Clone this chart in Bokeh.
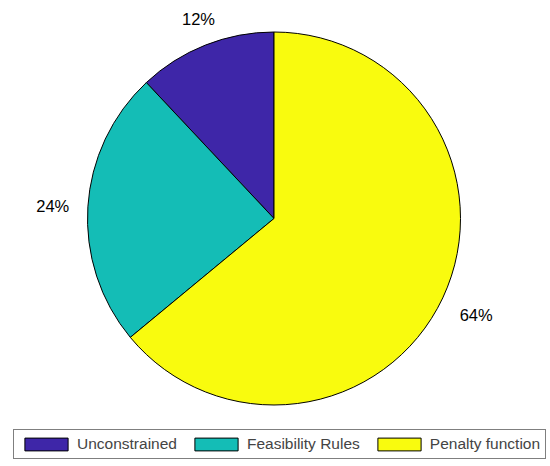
import math
from bokeh.plotting import figure
from bokeh.models import Range1d, ColumnDataSource, Legend, LegendItem
from bokeh.core.properties import value
from bokeh.embed import file_html
from bokeh.resources import INLINE

# ---- data ----
categories = ["Unconstrained", "Feasibility Rules", "Penalty function"]
shares = [12, 24, 64]
labels = ["12%", "24%", "64%"]
colors = ["#3E26A8", "#14BDB6", "#F9FB0E"]

# ---- layout constants (pixels) ----
W, H = 550, 466
R_PX = 186.5
CX, CY = 273.5, 218.0   # pie centre inside canvas
LABEL_R = 1.1

x0 = -CX / R_PX
x1 = (W - CX) / R_PX
y1 = CY / R_PX
y0 = -(H - CY) / R_PX

p = figure(width=W, height=H, output_backend="svg", toolbar_location=None,
           x_range=Range1d(x0, x1), y_range=Range1d(y0, y1),
           min_border=0, outline_line_color=None)
p.xaxis.visible = False
p.yaxis.visible = False
p.grid.visible = False
p.background_fill_color = "white"
p.border_fill_color = "white"

total = float(sum(shares))
starts, ends = [], []
a = math.pi / 2
for s in shares:
    starts.append(a)
    a += 2 * math.pi * s / total
    ends.append(a)

renderers = []
for i in range(len(shares)):
    r = p.wedge(x=0, y=0, radius=1.0, start_angle=starts[i], end_angle=ends[i],
                fill_color=colors[i], line_color="black", line_width=1,
                direction="anticlock")
    renderers.append(r)

# labels
tx, ty, al, bl = [], [], [], []
for i in range(len(shares)):
    mid = (starts[i] + ends[i]) / 2
    c, s = math.cos(mid), math.sin(mid)
    tx.append(LABEL_R * c)
    ty.append(LABEL_R * s)
    al.append("center" if abs(c) < 0.5 else ("left" if c > 0 else "right"))
    bl.append("middle" if abs(s) < 0.2 else ("bottom" if s > 0 else "top"))

src = ColumnDataSource(dict(x=tx, y=ty, t=labels, al=al, bl=bl))
p.text(x="x", y="y", text="t", source=src, text_align="al", text_baseline="bl",
       text_font=value("Liberation Sans"), text_font_size="16.5px", text_color="black")

legend = Legend(items=[LegendItem(label=categories[i], renderers=[renderers[i]])
                       for i in range(len(categories))],
                orientation="horizontal", location=(13, 7),
                glyph_width=54, glyph_height=16, label_height=16,
                label_standoff=4, spacing=12, padding=5, margin=0,
                label_text_font="Liberation Sans", label_text_font_size="15.5px",
                border_line_color="black", border_line_width=1,
                background_fill_color="white", background_fill_alpha=1.0)
p.add_layout(legend, "center")

open("out.html", "w").write(file_html(p, INLINE))
